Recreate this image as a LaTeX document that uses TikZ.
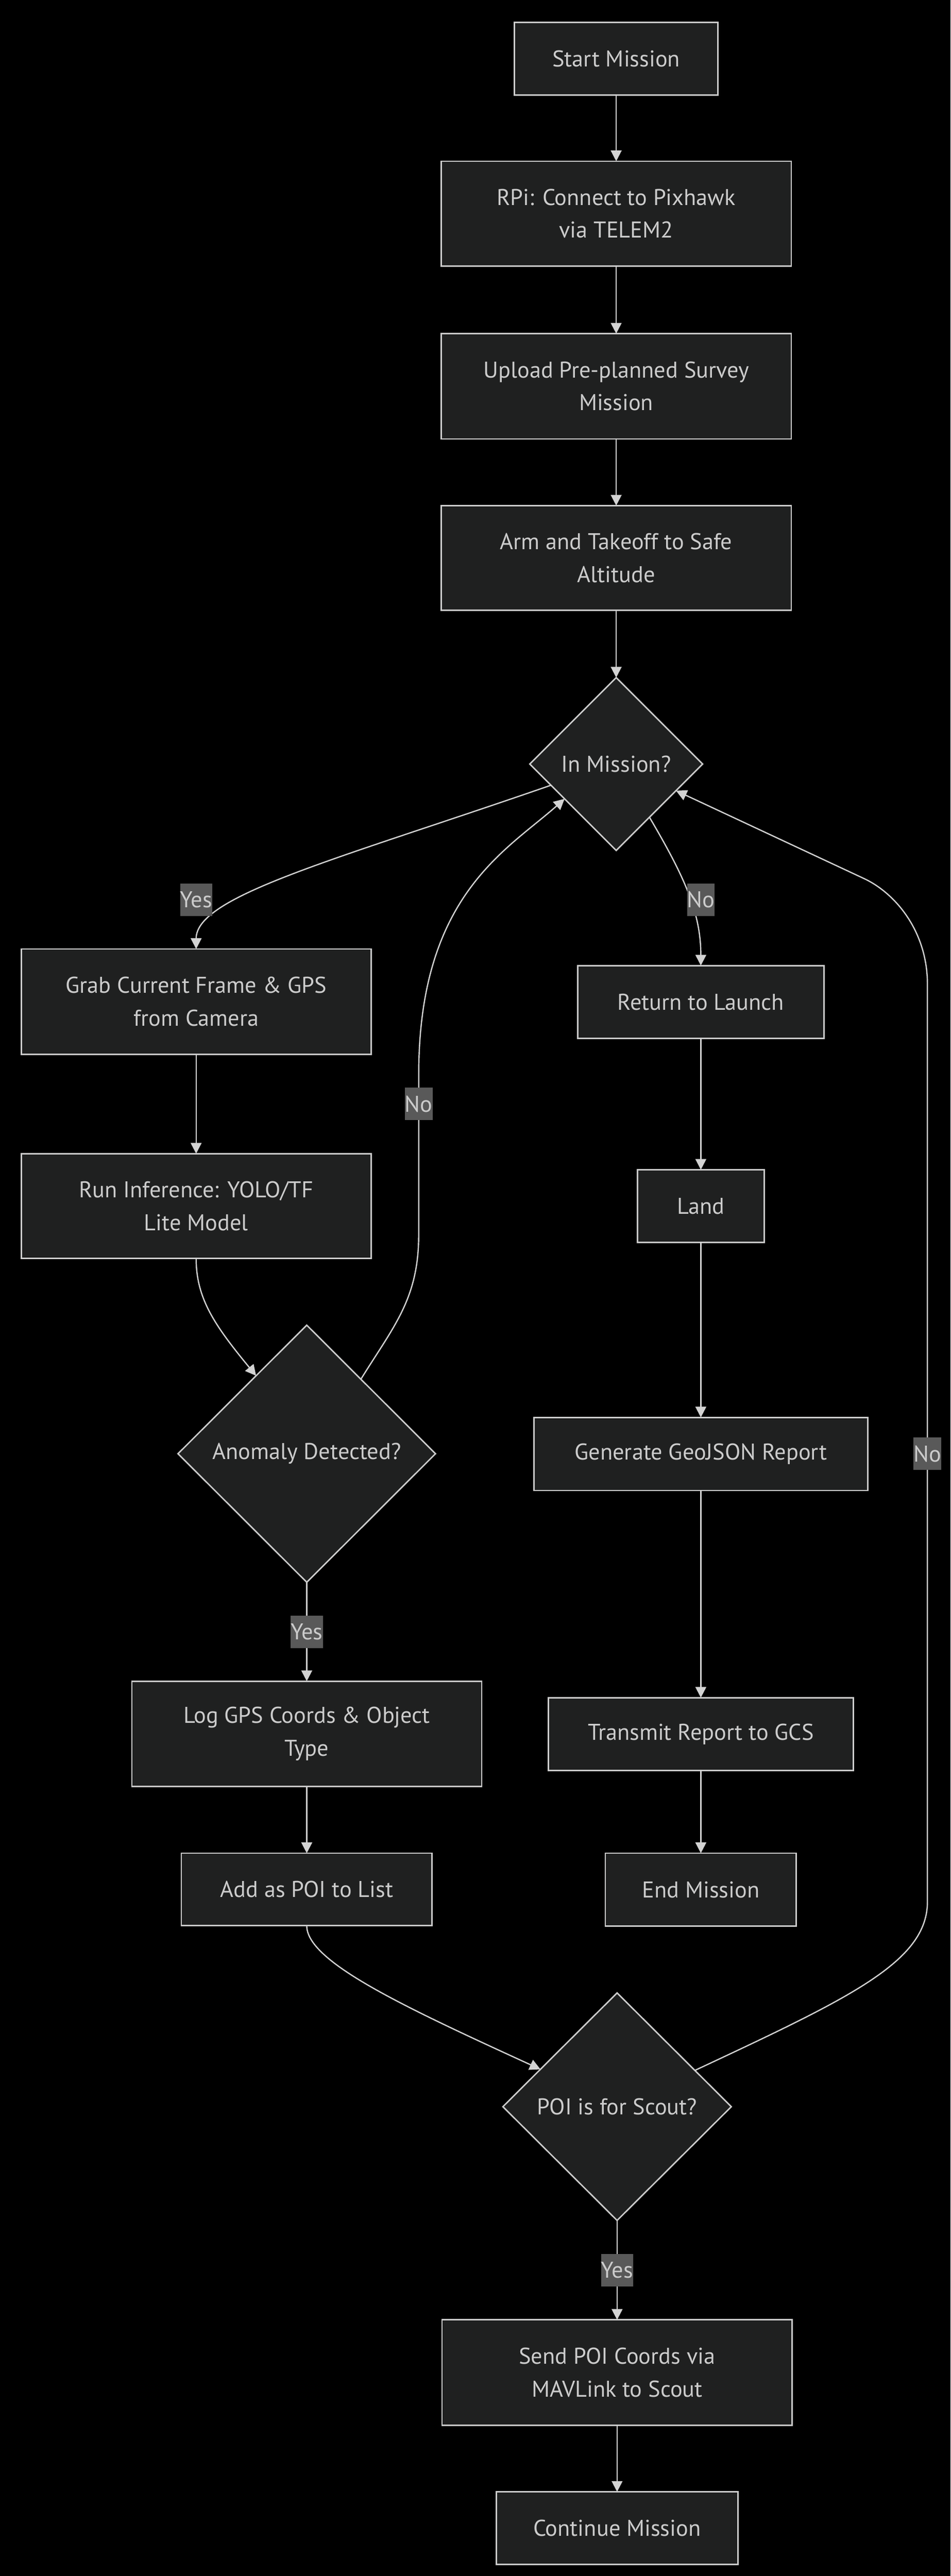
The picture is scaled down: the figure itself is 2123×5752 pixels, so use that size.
\documentclass[tikz,border=0pt]{standalone}
\usepackage{fontspec}
\setmainfont{PT Sans}
\usetikzlibrary{shapes.geometric,arrows.meta}
\definecolor{nodefill}{HTML}{1F2020}
\definecolor{nodeline}{HTML}{CCCCCC}
\definecolor{txt}{HTML}{CCCCCC}
\definecolor{edgecol}{HTML}{D3D3D3}
\definecolor{lblbg}{HTML}{595959}
\tikzset{
 box/.style={draw=nodeline, fill=nodefill, line width=0.8pt, text=txt, align=center, inner sep=0pt, outer sep=0pt, font=\fontsize{12.75}{18.25}\selectfont},
 dia/.style={box, shape=diamond, aspect=1},
 arr/.style={draw=edgecol, line width=0.7pt, -{Triangle[length=6pt,width=6pt]}},
 lbl/.style={fill=lblbg, text=txt, inner xsep=0pt, inner ysep=0pt, minimum height=18pt, font=\fontsize{12.75}{15}\selectfont},
}
\begin{document}
\begin{tikzpicture}[x=0.25pt,y=-0.25pt]
\fill[black] (0,0) rectangle (2123,5752);
\useasboundingbox (0,0) rectangle (2123,5752);
% nodes
\node[box, minimum width=113.5pt, minimum height=40.5pt] (start) at (1376,131) {Start Mission};
\node[box, minimum width=195.5pt, minimum height=58.5pt] (rpi) at (1376,477) {RPi: Connect to Pixhawk\\via TELEM2};
\node[box, minimum width=195.5pt, minimum height=58.75pt] (upload) at (1376,862.5) {Upload Pre-planned Survey\\Mission};
\node[box, minimum width=195.5pt, minimum height=58.5pt] (arm) at (1376,1246) {Arm and Takeoff to Safe\\Altitude};
\node[dia, minimum width=96.5pt, minimum height=96.5pt] (inm) at (1376,1706) {In Mission?};
\node[box, minimum width=195.25pt, minimum height=58.75pt] (grab) at (438,2236.5) {Grab Current Frame \& GPS\\from Camera};
\node[box, minimum width=137.4pt, minimum height=40.75pt] (rtl) at (1565,2237.5) {Return to Launch};
\node[box, minimum width=195.25pt, minimum height=58.5pt] (run) at (438,2693) {Run Inference: YOLO/TF\\Lite Model};
\node[box, minimum width=70.75pt, minimum height=40.5pt] (land) at (1565,2693) {Land};
\node[dia, minimum width=143.75pt, minimum height=143.5pt] (ano) at (685,3246) {Anomaly Detected?};
\node[box, minimum width=186.5pt, minimum height=40.75pt] (geo) at (1565,3246.5) {Generate GeoJSON Report};
\node[box, minimum width=195.25pt, minimum height=58.75pt] (log) at (685,3871.5) {Log GPS Coords \& Object\\Type};
\node[box, minimum width=170.25pt, minimum height=40.6pt] (transmit) at (1565,3872) {Transmit Report to GCS};
\node[box, minimum width=140pt, minimum height=40.5pt] (addpoi) at (685,4219) {Add as POI to List};
\node[box, minimum width=106.6pt, minimum height=40.75pt] (endm) at (1565,4219.5) {End Mission};
\node[dia, minimum width=127.5pt, minimum height=127pt] (poi) at (1378,4704) {POI is for Scout?};
\node[box, minimum width=195.5pt, minimum height=58.75pt] (send) at (1378,5297.5) {Send POI Coords via\\MAVLink to Scout};
\node[box, minimum width=135pt, minimum height=40.5pt] (cont) at (1378,5645) {Continue Mission};
% edges
\draw[arr] (start) -- (rpi);
\draw[arr] (rpi) -- (upload);
\draw[arr] (upload) -- (arm);
\draw[arr] (arm) -- (inm);
\draw[arr] (inm.198.4) .. controls (750,1920) and (438,2000) .. (grab.north);
\draw[arr] (inm.302) .. controls (1530,1960) and (1565,2040) .. (rtl.north);
\draw[arr] (grab) -- (run);
\draw[arr] (rtl) -- (land);
\draw[arr] (run.south) .. controls (438,2900) and (480,2960) .. (ano.123.9);
\draw[arr] (ano.54.6) .. controls (880,2960) and (935,2900) .. (935,2756) -- (935,2400) .. controls (935,2000) and (1130,1900) .. (inm.214.7);
\draw[arr] (land) -- (geo);
\draw[arr] (ano) -- (log);
\draw[arr] (geo) -- (transmit);
\draw[arr] (log) -- (addpoi);
\draw[arr] (transmit) -- (endm);
\draw[arr] (addpoi.south) .. controls (685,4380) and (900,4480) .. (poi.154.6);
\draw[arr] (poi.25.1) .. controls (1900,4460) and (2071,4380) .. (2071,4246) -- (2071,2198) .. controls (2071,2080) and (2000,1995) .. (1930,1962) -- (inm.336.4);
\draw[arr] (poi) -- (send);
\draw[arr] (send) -- (cont);
% edge labels
\node[lbl] (l1) at (438,2009) {Yes};
\node[lbl] (l2) at (1565,2009) {No};
\node[lbl] (l3) at (935,2465) {No};
\node[lbl] (l4) at (685,3644) {Yes};
\node[lbl] (l5) at (2071,3246) {No};
\node[lbl] (l6) at (1378,5069) {Yes};
\end{tikzpicture}
\end{document}
